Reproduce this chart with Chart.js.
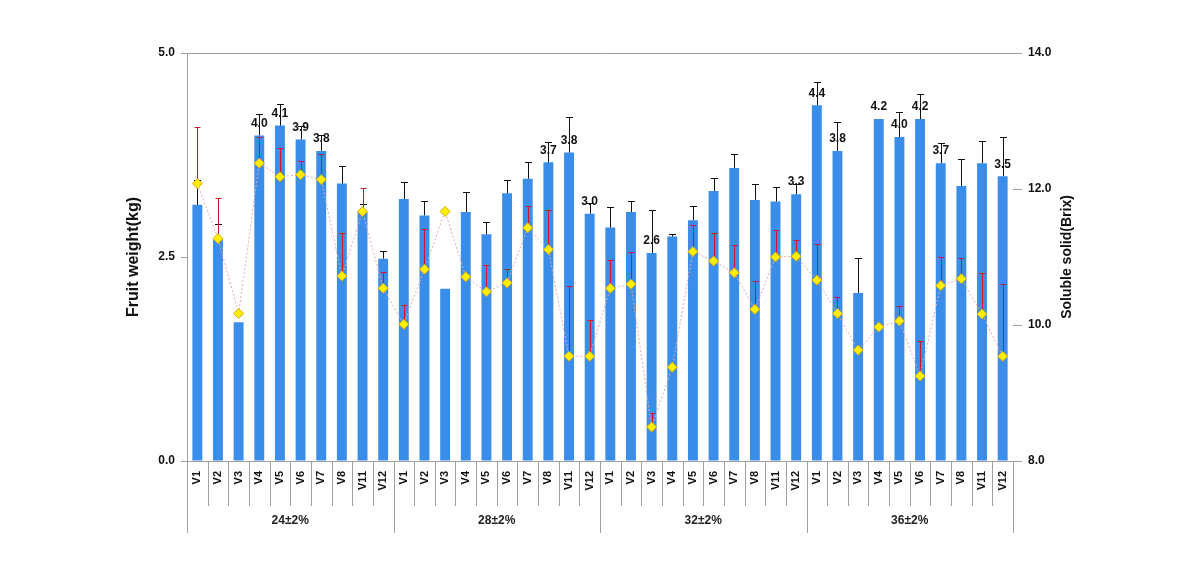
<!DOCTYPE html>
<html>
<head>
<meta charset="utf-8">
<script src="https://cdn.jsdelivr.net/npm/chart.js@4.4.1/dist/chart.umd.min.js"></script>
<style>
  html, body { margin: 0; padding: 0; background: #fff; }
  #wrap { width: 1190px; height: 569px; }
</style>
</head>
<body>
<div id="wrap"><canvas id="chart" width="1190" height="569"></canvas></div>
<script>
// Chart data
const varieties = ['V1', 'V2', 'V3', 'V4', 'V5', 'V6', 'V7', 'V8', 'V11', 'V12'];
const groups = ['24±2%', '28±2%', '32±2%', '36±2%'];

// Fruit weight (kg), one row per group
const fruitWeight = [
    3.14, 2.72, 1.70, 3.99, 4.11, 3.94, 3.80, 3.40, 3.06, 2.48,
    3.21, 3.01, 2.11, 3.05, 2.78, 3.28, 3.46, 3.66, 3.78, 3.03,
    2.86, 3.05, 2.55, 2.75, 2.95, 3.31, 3.59, 3.20, 3.18, 3.27,
    4.36, 3.80, 2.06, 4.19, 3.97, 4.19, 3.65, 3.37, 3.65, 3.49
];
const fruitWeightErr = [
    0.30, 0.19, 0.00, 0.26, 0.27, 0.16, 0.19, 0.22, 0.09, 0.09,
    0.21, 0.18, 0.00, 0.25, 0.15, 0.16, 0.20, 0.25, 0.43, 0.13,
    0.25, 0.14, 0.53, 0.03, 0.18, 0.16, 0.17, 0.19, 0.18, 0.12,
    0.29, 0.36, 0.43, 0.00, 0.31, 0.31, 0.25, 0.33, 0.27, 0.48
];
const weightLabels = [
    null, null, null, '4.0', '4.1', '3.9', '3.8', null, null, null,
    null, null, null, null, null, null, null, '3.7', '3.8', '3.0',
    null, null, '2.6', null, null, null, null, null, null, '3.3',
    '4.4', '3.8', null, '4.2', '4.0', '4.2', '3.7', null, null, '3.5'
];

// Soluble solid (Brix)
const brix = [
    12.08, 11.27, 10.17, 12.38, 12.18, 12.21, 12.14, 10.72, 11.67, 10.54,
    10.01, 10.82, 11.67, 10.71, 10.49, 10.62, 11.43, 11.11, 9.54, 9.54,
    10.54, 10.60, 8.50, 9.38, 11.08, 10.94, 10.77, 10.23, 11.00, 11.01,
    10.66, 10.17, 9.63, 9.97, 10.06, 9.25, 10.58, 10.68, 10.16, 9.54
];
const brixErr = [
    0.83, 0.60, 0.00, 0.39, 0.42, 0.20, 0.37, 0.64, 0.34, 0.24,
    0.28, 0.59, 0.00, 0.00, 0.39, 0.21, 0.32, 0.58, 1.03, 0.54,
    0.41, 0.47, 0.20, 0.00, 0.39, 0.42, 0.40, 0.42, 0.40, 0.24,
    0.53, 0.24, 0.00, 0.00, 0.22, 0.51, 0.42, 0.30, 0.61, 1.07
];

const weightTicks = [0, 2.5, 5];
const brixTicks = [8, 10, 12, 14];

const categories = groups.flatMap(() => varieties);
const FONT = "'Liberation Sans', Arial, sans-serif";

// Plus-only error bars (Excel style)
function drawErrors(chart, datasetIndex, values, errors, scaleId, color, cap) {
    const ctx = chart.ctx;
    const meta = chart.getDatasetMeta(datasetIndex);
    const scale = chart.scales[scaleId];
    ctx.save();
    ctx.strokeStyle = color;
    ctx.lineWidth = 1;
    meta.data.forEach((el, i) => {
        if (!errors[i]) return;
        const x = Math.round(el.x) + 0.5;
        const y0 = scale.getPixelForValue(values[i]);
        const y1 = Math.round(scale.getPixelForValue(values[i] + errors[i])) + 0.5;
        ctx.beginPath();
        ctx.moveTo(x, y0);
        ctx.lineTo(x, y1);
        ctx.moveTo(x - cap, y1);
        ctx.lineTo(x + cap, y1);
        ctx.stroke();
    });
    ctx.restore();
}

const errorBarPlugin = {
    id: 'errorBars',
    afterDatasetDraw(chart, args) {
        if (args.index === 0) {
            drawErrors(chart, 0, fruitWeight, fruitWeightErr, 'y', '#111111', 3.5);
        }
    },
    beforeDatasetDraw(chart, args) {
        if (args.index === 1) {
            drawErrors(chart, 1, brix, brixErr, 'y1', '#D4102E', 3);
        }
    }
};

const decorPlugin = {
    id: 'decor',
    afterDatasetsDraw(chart) {
        const ctx = chart.ctx;
        const meta = chart.getDatasetMeta(0);
        ctx.save();
        ctx.fillStyle = '#111';
        ctx.font = 'bold 12px ' + FONT;
        ctx.textAlign = 'center';
        ctx.textBaseline = 'bottom';
        meta.data.forEach((el, i) => {
            if (weightLabels[i]) ctx.fillText(weightLabels[i], el.x, el.y - 6);
        });
        ctx.restore();
    },
    afterDraw(chart) {
        const ctx = chart.ctx;
        const area = chart.chartArea;
        const step = (area.right - area.left) / categories.length;
        ctx.save();
        ctx.strokeStyle = '#a0a0a0';
        ctx.lineWidth = 1;

        // top border
        ctx.beginPath();
        ctx.moveTo(area.left, area.top + 0.5);
        ctx.lineTo(area.right + 3, area.top + 0.5);
        ctx.stroke();

        // category and group separators below the axis
        for (let i = 0; i <= categories.length; i++) {
            const x = Math.round(area.left + i * step) + 0.5;
            const isGroup = i % varieties.length === 0;
            ctx.beginPath();
            ctx.moveTo(x, area.bottom);
            ctx.lineTo(x, isGroup ? 533 : 506);
            ctx.stroke();
        }

        // group labels
        ctx.fillStyle = '#222';
        ctx.font = 'bold 12px ' + FONT;
        ctx.textAlign = 'center';
        ctx.textBaseline = 'middle';
        groups.forEach((g, gi) => {
            const cx = area.left + (gi + 0.5) * varieties.length * step;
            ctx.fillText(g, cx, 521);
        });

        // axis titles
        ctx.fillStyle = '#111';
        ctx.font = 'bold 16px ' + FONT;
        ctx.translate(134, (area.top + area.bottom) / 2);
        ctx.rotate(-Math.PI / 2);
        ctx.fillText('Fruit weight(kg)', 0, 0);
        ctx.setTransform(1, 0, 0, 1, 0, 0);
        ctx.font = 'bold 14px ' + FONT;
        ctx.translate(1067, (area.top + area.bottom) / 2);
        ctx.rotate(-Math.PI / 2);
        ctx.fillText('Soluble solid(Brix)', 0, 0);
        ctx.restore();
    }
};

new Chart(document.getElementById('chart'), {
    type: 'bar',
    data: {
        labels: categories,
        datasets: [{
            type: 'bar',
            label: 'Fruit weight',
            data: fruitWeight,
            yAxisID: 'y',
            backgroundColor: '#3A8EEA',
            barPercentage: 1.0,
            categoryPercentage: 0.48,
            order: 2
        }, {
            type: 'line',
            label: 'Soluble solid',
            data: brix,
            yAxisID: 'y1',
            borderColor: '#E6A8B4',
            borderWidth: 1,
            borderDash: [2, 2],
            pointStyle: 'rectRot',
            pointRadius: 5,
            pointBackgroundColor: '#FFF000',
            pointBorderColor: '#DDA800',
            pointBorderWidth: 1,
            tension: 0,
            order: 1
        }]
    },
    options: {
        responsive: false,
        animation: false,
        layout: { padding: { left: 122, right: 113, top: 53, bottom: 0 } },
        plugins: {
            legend: { display: false },
            tooltip: { enabled: false }
        },
        scales: {
            x: {
                grid: { display: false },
                border: { color: '#a0a0a0' },
                ticks: {
                    autoSkip: false,
                    minRotation: 90,
                    maxRotation: 90,
                    padding: 2,
                    color: '#111',
                    font: { family: FONT, size: 11, weight: 'bold' }
                },
                afterFit: scale => { scale.height = 108; }
            },
            y: {
                position: 'left',
                min: 0,
                max: 5,
                afterBuildTicks: scale => { scale.ticks = weightTicks.map(v => ({ value: v })); },
                grid: { drawOnChartArea: false, tickLength: 6, color: '#a0a0a0' },
                border: { color: '#a0a0a0' },
                ticks: {
                    padding: 6,
                    color: '#111',
                    font: { family: FONT, size: 12, weight: 'bold' },
                    callback: v => v.toFixed(1)
                },
                afterFit: scale => { scale.width = 65; }
            },
            y1: {
                position: 'right',
                min: 8,
                max: 14,
                afterBuildTicks: scale => { scale.ticks = brixTicks.map(v => ({ value: v })); },
                grid: { drawOnChartArea: false, tickLength: 9, color: '#a0a0a0' },
                border: { display: false },
                ticks: {
                    padding: 6,
                    color: '#111',
                    font: { family: FONT, size: 12, weight: 'bold' },
                    callback: v => v.toFixed(1)
                },
                afterFit: scale => { scale.width = 64; }
            }
        }
    },
    plugins: [errorBarPlugin, decorPlugin]
});
</script>
</body>
</html>
